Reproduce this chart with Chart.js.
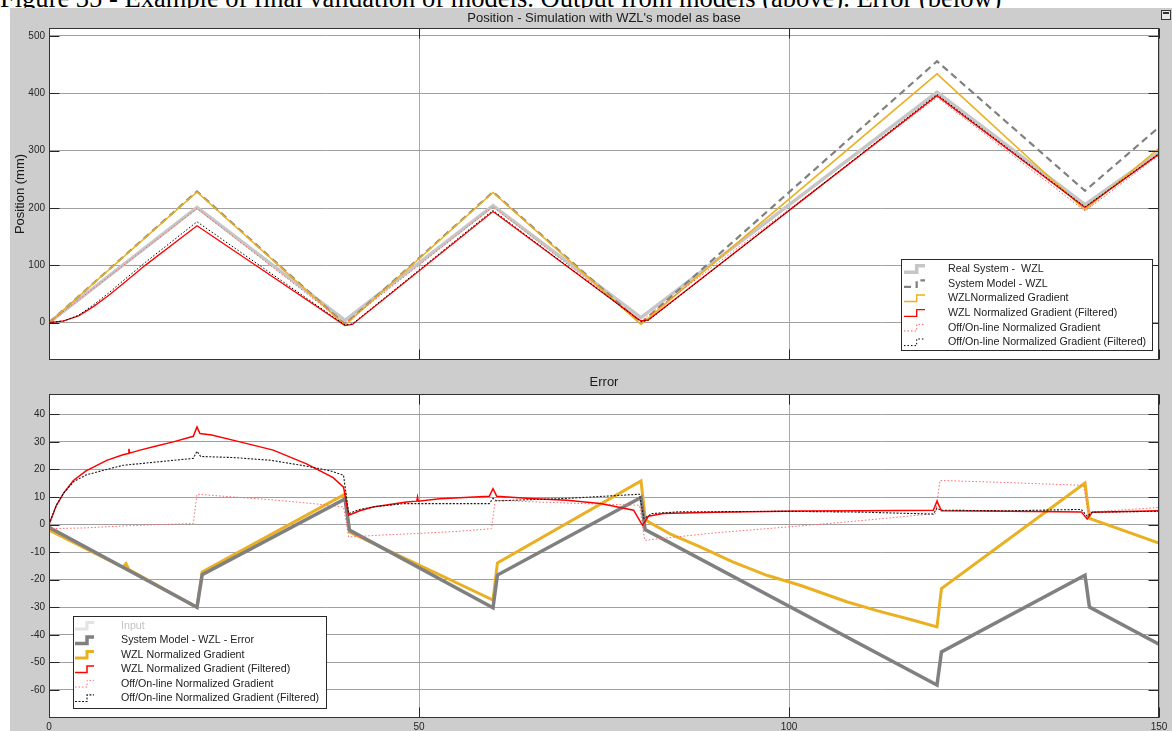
<!DOCTYPE html>
<html>
<head>
<meta charset="utf-8">
<script src="https://cdn.jsdelivr.net/npm/chart.js@4.4.1/dist/chart.umd.min.js"></script>
<style>
  html, body { margin: 0; padding: 0; background: #fff; width: 1172px; height: 731px; overflow: hidden; position: relative; }
  #caption { position: absolute; left: 0; top: -14px; font-family: "Liberation Serif", "Times New Roman", serif; font-size: 24px; line-height: 1; white-space: nowrap; color: #000; z-index: 0; }
  #panel { position: absolute; left: 10px; top: 8px; width: 1162px; height: 723px; background: #cdcdcd; z-index: 1; }
  canvas { position: absolute; z-index: 2; }
  #posChart { left: 10px; top: 8px; }
  #errChart { left: 10px; top: 368px; }
  #undock { position: absolute; left: 1161px; top: 10px; width: 8px; height: 8px; border: 1px solid #333; background: #e8e8e8; z-index: 3; }
  #undock::after { content: ""; position: absolute; left: 1px; top: 1px; width: 6px; height: 2px; background: #333; }
</style>
</head>
<body>
<div id="caption">Figure 35 - Example of final validation of models. Output from models (above). Error (below)</div>
<div id="panel"></div>
<div id="undock"></div>
<canvas id="posChart" width="1162" height="360"></canvas>
<canvas id="errChart" width="1162" height="363"></canvas>
<script>
// ---- axis ticks ----
const timeTicks = [0, 50, 100, 150];
const posTicks = [0, 100, 200, 300, 400, 500];
const errTicks = [-60, -50, -40, -30, -20, -10, 0, 10, 20, 30, 40];

// ---- legend labels ----
const posLabels = [
  'Real System -  WZL',
  'System Model - WZL',
  'WZLNormalized Gradient',
  'WZL Normalized Gradient (Filtered)',
  'Off/On-line Normalized Gradient',
  'Off/On-line Normalized Gradient (Filtered)'
];
const errLabels = [
  'Input',
  'System Model - WZL - Error',
  'WZL Normalized Gradient',
  'WZL Normalized Gradient (Filtered)',
  'Off/On-line Normalized Gradient',
  'Off/On-line Normalized Gradient (Filtered)'
];

// ---- position traces: [time, mm] ----
const posRealSystem = [[0,0],[20,201],[40,4],[60,204],[80,9],[120,402],[140,206],[150,297]];
const posSystemModel = [[0,0],[20,229],[40,-3],[60,228],[80,-1],[120,456],[140,230],[150,341]];
const posWzlGradient = [[0,0],[20,228],[40,-4],[60,227],[80,-3],[120,434],[140,197],[150,304]];
const posWzlFiltered = [[0,0],[2,3],[4,12],[6,28],[8,47],[10,68],[13,100],[20,169],[40,-5],[41,-3],[60,194],[80,3],[81,5],[120,396],[140,201],[150,294]];
const posOffOnline = [[0,0],[20,199],[40,-1],[60,202],[80,3],[120,393],[140,195],[150,292]];
const posOffOnlineFiltered = [[0,0],[2,3],[4,13],[6,31],[8,51],[10,73],[13,105],[20,176],[40,-4],[41,-2],[60,196],[80,2],[81,4],[120,398],[140,202],[150,295]];

// ---- error traces: [time, mm] ----
const errInput = [];
const errSystemModel = [[0,-1],[20,-30],[20.7,-18.2],[40,9.3],[40.6,-2],[60,-30.2],[60.6,-18.3],[80,9.8],[80.55,-1.8],[120,-58.2],[120.6,-46.2],[140,-18.4],[140.6,-29.9],[150,-43.4]];
const errWzlGradient = [[0,-2],[10,-15.5],[10.4,-14.2],[10.8,-16.3],[20,-30],[20.7,-17.2],[40,11],[40.6,-2.7],[60,-27.4],[60.6,-13.9],[80,15.8],[80.6,1.6],[84,-3.5],[88,-8.1],[92.4,-13.5],[97,-18.4],[101.5,-22],[107.8,-28],[112,-31.3],[116.8,-34.7],[120,-37.1],[120.6,-23.2],[140,15.1],[140.6,2.2],[150,-6.7]];
const errWzlFiltered = [[0,0],[1,7],[2,11.5],[3.3,16],[5,19.5],[7.8,23.3],[10,25.3],[10.7,25.8],[10.8,27.5],[10.9,25.9],[12.3,27],[14.5,28.5],[16.8,30],[19.5,32],[20,35.4],[20.4,33],[22,32.5],[25.8,30],[30.3,27],[34.8,22],[38.4,17],[39.8,13.6],[40.5,3.4],[42,5],[43.8,6.4],[48.3,8.2],[49.7,8.5],[49.8,10],[49.9,8.5],[52.8,9.4],[59.5,10.3],[60,13],[60.5,10.3],[65,9.5],[70,8.8],[74.5,7.6],[79,5.2],[80.2,-0.3],[81,3],[83,4],[90,4.5],[101.5,4.9],[110,5],[119.5,5.2],[120,8.5],[120.6,5],[130,4.8],[139.5,4.6],[140.3,2],[141,4.5],[150,5]];
const errOffOnline = [[0,-1.5],[5,-1.2],[10,-0.5],[15,0],[19.5,0.4],[20,11],[25,10],[30,9],[35,7.8],[39.8,6.4],[40.5,-4.5],[45,-3.8],[50,-3.2],[55,-2.5],[59.8,-1.5],[60.3,8.8],[65,8.3],[70,7.8],[79.8,7],[80.5,-5.7],[90,-3],[101.5,-0.5],[110,1.5],[119.8,4],[120.4,16],[130,15.2],[139.8,14.2],[140.5,4.5],[150,6.2]];
const errOffOnlineFiltered = [[0,0],[1,7],[2,11.5],[3.3,15.5],[5,18],[7.8,20],[10,21.5],[12.3,22.1],[16.8,23.3],[19.5,24],[20,26.6],[20.5,24.7],[25,24.3],[30,23.3],[35,21.1],[38,19.5],[39.8,17.9],[40.5,4],[42,5.5],[44,6.5],[48,7.6],[55,7.6],[59.5,7.6],[60,9.5],[60.5,8.6],[70,9.5],[79.8,11],[80.4,2.2],[81.5,4],[85,4.6],[100,4.8],[110,4.5],[119.5,3.8],[120,6],[120.5,5.2],[130,5],[139.5,5.5],[140.3,3],[141,4.5],[150,4.8]];

const FONT = '"Liberation Sans", Arial, sans-serif';
const toXY = arr => arr.map(p => ({ x: p[0], y: p[1] }));

// fit the caption line across the page top
(function () {
  const cap = document.getElementById('caption');
  const w = cap.getBoundingClientRect().width;
  const fs = 24 * 1002 / w;
  cap.style.fontSize = fs + 'px';
  cap.style.top = (7 - 0.8375 * fs) + 'px';
})();

// white plot background, inner tick marks, frame and in-plot legend
const frameAndTicks = {
  id: 'frameAndTicks',
  beforeDraw(chart) {
    const { ctx, chartArea: a } = chart;
    ctx.save();
    ctx.fillStyle = '#ffffff';
    ctx.fillRect(a.left, a.top, a.right - a.left, a.bottom - a.top);
    ctx.restore();
  },
  afterDraw(chart, args, opts) {
    const { ctx, chartArea: a, scales: { x, y } } = chart;
    const L = Math.round(a.left) + 0.5, R = Math.round(a.right) - 0.5;
    const T = Math.round(a.top) + 0.5, B = Math.round(a.bottom) - 0.5;
    ctx.save();
    ctx.setLineDash([]);
    ctx.strokeStyle = '#262626';
    ctx.lineWidth = 1;
    ctx.beginPath();
    y.ticks.forEach(t => {
      const py = Math.round(y.getPixelForValue(t.value)) + 0.5;
      ctx.moveTo(L, py); ctx.lineTo(L + 10, py);
      ctx.moveTo(R, py); ctx.lineTo(R - 10, py);
    });
    x.ticks.forEach(t => {
      const px = Math.round(x.getPixelForValue(t.value)) + 0.5;
      ctx.moveTo(px, B); ctx.lineTo(px, B - 10);
      ctx.moveTo(px, T); ctx.lineTo(px, T + 10);
    });
    ctx.stroke();
    ctx.strokeStyle = '#333333';
    ctx.strokeRect(L, T, R - L, B - T);

    const lg = opts.legend;
    if (lg) {
      ctx.fillStyle = '#ffffff';
      ctx.fillRect(lg.x, lg.y, lg.w, lg.h);
      ctx.strokeStyle = '#2a2a2a';
      ctx.lineWidth = 1;
      ctx.strokeRect(lg.x + 0.5, lg.y + 0.5, lg.w, lg.h);
      ctx.font = lg.font;
      ctx.textBaseline = 'middle';
      ctx.textAlign = 'left';
      chart.data.datasets.forEach((ds, i) => {
        const cy = lg.rowY + i * lg.rowH;
        const gx = lg.glyphX;
        ctx.strokeStyle = ds.borderColor;
        ctx.lineWidth = ds.borderWidth;
        ctx.setLineDash(ds.borderDash || []);
        ctx.beginPath();
        ctx.moveTo(gx, cy + 3.3);
        ctx.lineTo(gx + lg.low, cy + 3.3);
        ctx.lineTo(gx + lg.low, cy - 3.3);
        ctx.lineTo(gx + lg.low + lg.up, cy - 3.3);
        ctx.stroke();
        ctx.setLineDash([]);
        ctx.fillStyle = ds.hidden ? '#c4c4c4' : '#222222';
        ctx.fillText(ds.label, lg.textX, cy);
      });
    }
    ctx.restore();
  }
};

function makeChart(id, c) {
  return new Chart(document.getElementById(id), {
    type: 'line',
    data: { datasets: c.datasets },
    options: {
      responsive: false,
      animation: false,
      devicePixelRatio: 1,
      parsing: true,
      layout: { padding: { left: 0, right: 13, top: 0, bottom: 0 } },
      elements: { point: { radius: 0 }, line: { tension: 0 } },
      plugins: {
        legend: { display: false },
        tooltip: { enabled: false },
        title: {
          display: true, text: c.title, fullSize: false,
          color: '#1a1a1a', font: { family: FONT, size: 13, weight: 'normal' },
          padding: c.titlePadding
        },
        frameAndTicks: { legend: c.legend }
      },
      scales: {
        x: {
          type: 'linear', min: 0, max: 150,
          afterBuildTicks: s => { s.ticks = timeTicks.map(v => ({ value: v })); },
          afterFit: s => { s.height = c.xHeight; s.paddingLeft = 0; s.paddingRight = 0; },
          grid: { color: '#a9a9a9', lineWidth: 1, drawTicks: false },
          border: { display: false },
          ticks: { display: c.showX, padding: 3, color: '#262626', font: { family: FONT, size: 10 } }
        },
        y: {
          type: 'linear', min: c.yMin, max: c.yMax,
          afterBuildTicks: s => { s.ticks = c.yTicks.map(v => ({ value: v })); },
          afterFit: s => { s.width = 39; s.paddingTop = 0; s.paddingBottom = 0; },
          grid: { color: '#a0a0a0', lineWidth: 1, drawTicks: false },
          border: { display: false },
          ticks: { padding: 4, color: '#262626', font: { family: FONT, size: 10 } },
          title: c.yTitle ? {
            display: true, text: c.yTitle, color: '#1a1a1a',
            font: { family: FONT, size: 13 }, padding: { top: 3, bottom: 0 }
          } : { display: false }
        }
      }
    },
    plugins: [frameAndTicks]
  });
}

makeChart('posChart', {
  title: "Position - Simulation with WZL's model as base",
  titlePadding: { top: 2.2, bottom: 2.2 },
  xHeight: 8, showX: false,
  yMin: -65.05, yMax: 513.95, yTicks: posTicks, yTitle: 'Position (mm)',
  legend: { x: 891, y: 251, w: 251, h: 91, rowY: 261, rowH: 14.66, glyphX: 894, low: 12.7, up: 8.3, textX: 938, font: '10.7px ' + FONT },
  datasets: [
    { label: posLabels[0], data: toXY(posRealSystem), borderColor: '#c6c6c6', borderWidth: 3.5, order: 6 },
    { label: posLabels[1], data: toXY(posSystemModel), borderColor: '#808080', borderWidth: 2.2, borderDash: [7, 4.5], order: 5 },
    { label: posLabels[2], data: toXY(posWzlGradient), borderColor: '#ecb01f', borderWidth: 1.5, order: 4 },
    { label: posLabels[3], data: toXY(posWzlFiltered), borderColor: '#ff0000', borderWidth: 1.3, order: 2 },
    { label: posLabels[4], data: toXY(posOffOnline), borderColor: '#ff5a5a', borderWidth: 1, borderDash: [1.5, 2], order: 3 },
    { label: posLabels[5], data: toXY(posOffOnlineFiltered), borderColor: '#000000', borderWidth: 1, borderDash: [1.5, 2], order: 1 }
  ]
});

makeChart('errChart', {
  title: 'Error',
  titlePadding: { top: 7, bottom: 3.4 },
  xHeight: 13, showX: true,
  yMin: -70.16, yMax: 47.36, yTicks: errTicks, yTitle: null,
  legend: { x: 63, y: 248, w: 253, h: 92, rowY: 257.7, rowH: 14.5, glyphX: 65, low: 12, up: 7, textX: 111, font: '10.7px ' + FONT },
  datasets: [
    { label: errLabels[0], data: toXY(errInput), borderColor: '#e3e3e3', borderWidth: 3, hidden: true, order: 7 },
    { label: errLabels[1], data: toXY(errSystemModel), borderColor: '#808080', borderWidth: 3.5, order: 5 },
    { label: errLabels[2], data: toXY(errWzlGradient), borderColor: '#ebb022', borderWidth: 3, order: 6 },
    { label: errLabels[3], data: toXY(errWzlFiltered), borderColor: '#ff0000', borderWidth: 1.5, order: 2 },
    { label: errLabels[4], data: toXY(errOffOnline), borderColor: '#ff6a6a', borderWidth: 1, borderDash: [1.5, 2], order: 3 },
    { label: errLabels[5], data: toXY(errOffOnlineFiltered), borderColor: '#1a1a1a', borderWidth: 1.1, borderDash: [2, 1.5], order: 1 }
  ]
});
</script>
</body>
</html>
